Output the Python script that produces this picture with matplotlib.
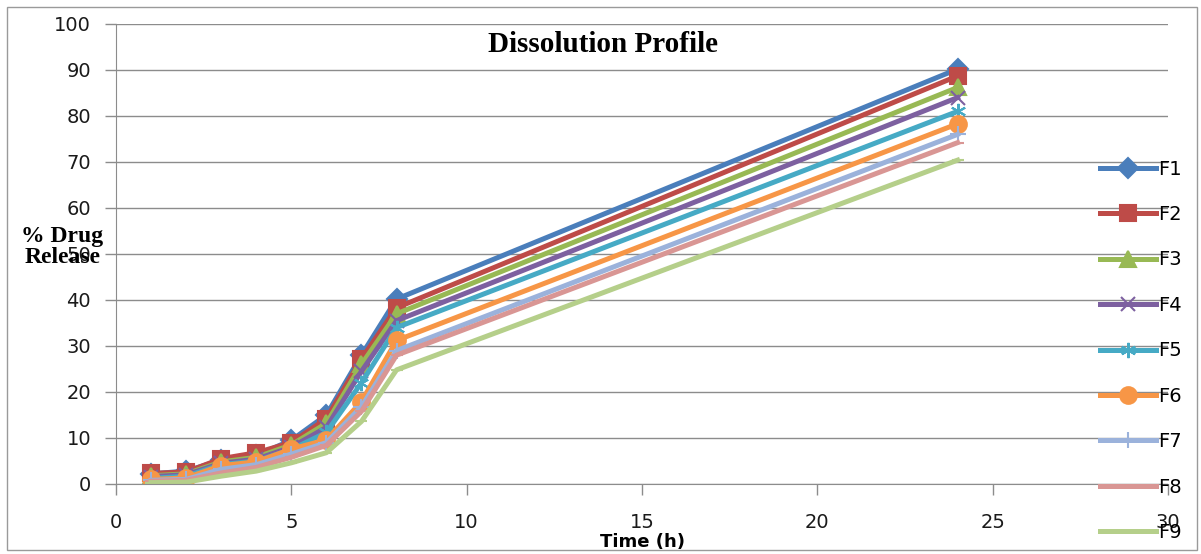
import matplotlib.pyplot as plt
from matplotlib.patches import Rectangle

# time points (h)
time = [1, 2, 3, 4, 5, 6, 7, 8, 24]

# % drug release per formulation
f1 = [2.2, 2.8, 5.2, 6.2, 9.5, 15.0, 28.0, 40.2, 90.2]
f2 = [2.3, 2.6, 5.5, 6.8, 9.0, 14.2, 27.2, 38.3, 88.7]
f3 = [1.8, 2.2, 4.8, 5.8, 8.5, 13.2, 26.0, 37.0, 86.2]
f4 = [1.6, 2.0, 4.5, 5.4, 8.0, 12.3, 24.5, 35.5, 84.0]
f5 = [1.2, 1.7, 4.2, 5.0, 7.5, 11.2, 22.0, 34.0, 81.0]
f6 = [1.0, 1.3, 4.0, 4.8, 7.6, 9.6, 17.9, 31.2, 78.3]
f7 = [0.8, 1.0, 3.2, 4.2, 6.5, 9.0, 16.8, 29.0, 76.0]
f8 = [0.6, 0.8, 2.4, 3.6, 5.8, 8.4, 15.8, 28.0, 74.2]
f9 = [0.3, 0.4, 1.7, 2.8, 4.6, 6.8, 13.6, 24.8, 70.4]

labels = ["F1", "F2", "F3", "F4", "F5", "F6", "F7", "F8", "F9"]
series = [f1, f2, f3, f4, f5, f6, f7, f8, f9]
colors = ["#4A7EBB", "#BE4B48", "#98B954", "#7D60A0", "#46AAC5",
          "#F79646", "#9BB2DB", "#D99694", "#B5CF8A"]
markers = ["D", "s", "^", "x", (6, 2, 0), "o", "+", "_", "_"]
msizes = [10, 12, 11, 10, 11, 12, 12, 9, 9]

fig = plt.figure(figsize=(12.01, 5.54), dpi=100)
ax = fig.add_axes([0.0966, 0.1264, 0.8759, 0.8303])

for y, lab, c, m, ms in zip(series, labels, colors, markers, msizes):
    ax.plot(time, y, color=c, lw=3.6, marker=m, markersize=ms,
            markeredgewidth=1.5, markeredgecolor=c, label=lab)

ax.set_xlim(0, 30)
ax.set_ylim(0, 100)
ax.set_xticks(range(0, 31, 5))
ax.set_yticks(range(0, 101, 10))
ax.yaxis.grid(True, color="#8c8c8c", lw=1.0)
ax.set_axisbelow(True)

for s in ["top", "right"]:
    ax.spines[s].set_visible(False)
for s in ["left", "bottom"]:
    ax.spines[s].set_color("#8c8c8c")
ax.tick_params(colors="#8c8c8c", length=8, width=1, labelcolor="#1a1a1a",
               labelsize=14)
ax.tick_params(axis="y", pad=10)
ax.tick_params(axis="x", pad=13)

fig.text(0.502, 0.919, "Dissolution Profile", ha="center", va="center",
         fontsize=21, fontweight="bold", family="Liberation Serif")
fig.text(0.052, 0.554, "% Drug\nRelease", ha="center", va="center",
         fontsize=17, fontweight="bold", family="Liberation Serif",
         linespacing=1.0)
fig.text(0.535, 0.022, "Time (h)", ha="center", va="center",
         fontsize=13, fontweight="bold")

fig.legend(loc="upper left", bbox_to_anchor=(0.916, 0.712), frameon=False,
           fontsize=14, numpoints=1, handlelength=2.85, handletextpad=0.15,
           labelspacing=1.36, borderpad=0, borderaxespad=0)

fig.patches.append(Rectangle((0.006, 0.008), 0.991, 0.98,
                             transform=fig.transFigure, fill=False,
                             edgecolor="#9a9a9a", lw=1))

fig.savefig("out.png", dpi=100)
